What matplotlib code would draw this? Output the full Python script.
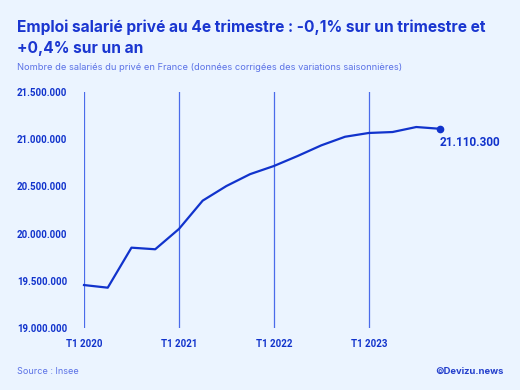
import matplotlib
matplotlib.use("Agg")
import matplotlib.pyplot as plt

quarters = ["T1 2020", "T2 2020", "T3 2020", "T4 2020",
            "T1 2021", "T2 2021", "T3 2021", "T4 2021",
            "T1 2022", "T2 2022", "T3 2022", "T4 2022",
            "T1 2023", "T2 2023", "T3 2023", "T4 2023"]
values = [19455000, 19427000, 19851000, 19834000,
          20049000, 20349000, 20504000, 20630000,
          20716000, 20822000, 20935000, 21026000,
          21066000, 21076000, 21129000, 21110300]
yticks = [19000000, 19500000, 20000000, 20500000, 21000000, 21500000]
xtick_labels = ["T1 2020", "T1 2021", "T1 2022", "T1 2023"]

BG = "#EBF4FF"
LINE = "#1133CC"
GRID = "#4A6BEA"
TXT = "#1133CC"
LIGHT = "#5B72E6"

plt.rcParams['font.family'] = ['Roboto', 'DejaVu Sans']

fig = plt.figure(figsize=(5.2, 3.9), dpi=100, facecolor=BG)
ax = fig.add_axes([84/520, 1-328/390, 356/520, 236/390], facecolor=BG)

x = list(range(len(values)))
ax.plot(x, values, color=LINE, lw=1.6, clip_on=False, zorder=3)
ax.plot([x[-1]], [values[-1]], 'o', color=LINE, ms=4.5, clip_on=False, zorder=4)
ax.annotate("21.110.300", (x[-1], values[-1]), xytext=(0, -5), textcoords="offset points",
            ha="left", va="top", fontsize=8.5, fontweight="bold", color=TXT, annotation_clip=False)

ax.set_xlim(0, 15)
ax.set_ylim(19000000, 21500000)
xt = [quarters.index(q) for q in xtick_labels]
ax.set_xticks(xt)
ax.set_xticklabels(xtick_labels, fontsize=7, fontweight="bold", color=TXT)
ax.set_yticks(yticks)
ax.set_yticklabels([f"{v:,}".replace(",", ".") for v in yticks], fontsize=7,
                   fontweight="bold", color=TXT)
for t in ax.get_yticklabels():
    t.set_horizontalalignment("left")
ax.tick_params(axis="y", length=0, pad=48.2)
ax.tick_params(axis="x", length=0, pad=8)
for xi in xt:
    ax.axvline(xi, color=GRID, lw=0.9, zorder=1)
for s in ax.spines.values():
    s.set_visible(False)

fig.text(17/520, 1-32/390, "Emploi salarié privé au 4e trimestre : -0,1% sur un trimestre et",
         fontsize=11.2, fontweight="bold", color="#1a36d0", family=['Inter', 'DejaVu Sans'])
fig.text(17/520, 1-53/390, "+0,4% sur un an",
         fontsize=11.2, fontweight="bold", color="#1a36d0", family=['Inter', 'DejaVu Sans'])
fig.text(17/520, 1-70/390, "Nombre de salariés du privé en France (données corrigées des variations saisonnières)",
         fontsize=6.7, color=LIGHT, family=['Inter', 'DejaVu Sans'])
fig.text(17/520, 1-374/390, "Source : Insee", fontsize=6.5, color=LIGHT, family=['Inter', 'DejaVu Sans'])
fig.text(504/520, 1-374/390, "©Devizu.news", fontsize=6.8, fontweight="bold", color="#2440cc",
         ha="right", family=['Inter', 'DejaVu Sans'])

fig.savefig("out.png", dpi=100, facecolor=BG)
